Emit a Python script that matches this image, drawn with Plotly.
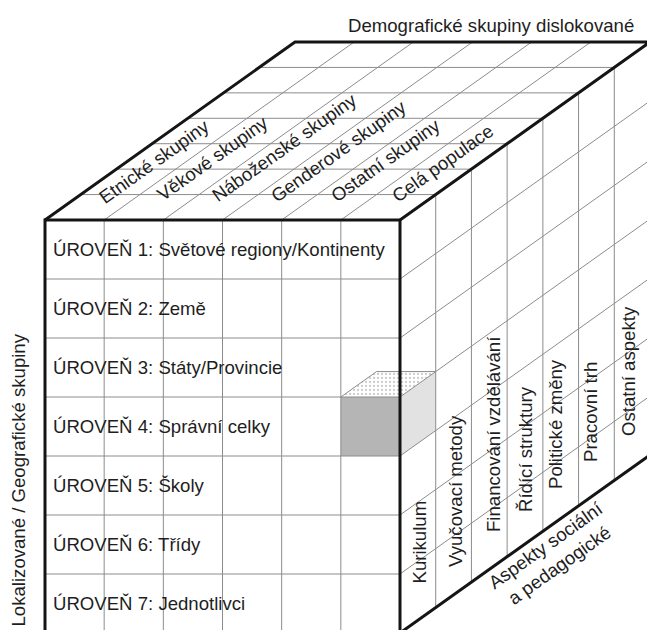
import math
import plotly.graph_objects as go

# ---------------- data ----------------
levels = [
    "ÚROVEŇ 1: Světové regiony/Kontinenty",
    "ÚROVEŇ 2: Země",
    "ÚROVEŇ 3: Státy/Provincie",
    "ÚROVEŇ 4: Správní celky",
    "ÚROVEŇ 5: Školy",
    "ÚROVEŇ 6: Třídy",
    "ÚROVEŇ 7: Jednotlivci",
]
demographic_groups = [
    "Etnické skupiny",
    "Věkové skupiny",
    "Náboženské skupiny",
    "Genderové skupiny",
    "Ostatní skupiny",
    "Celá populace",
]
aspects = [
    "Kurikulum",
    "Vyučovací metody",
    "Financování vzdělávání",
    "Řídící struktury",
    "Politické změny",
    "Pracovní trh",
    "Ostatní aspekty",
]
title_top = "Demografické skupiny dislokované"
title_left = "Lokalizované / Geografické skupiny"
title_right = "Aspekty sociální<br>a pedagogické"
highlight_level = "ÚROVEŇ 4: Správní celky"
highlight_group = "Celá populace"
highlight_aspect = "Kurikulum"

# ---------------- geometry (pixel space) ----------------
W, H = 647, 630
X0, Y0 = 45.0, 220.0          # front face top-left corner
FRONT_W = 355.0
CELL_H = 59.0
DEPTH_X, DEPTH_Y = 250.0, 178.0
n_rows, n_cols, n_dep = len(levels), len(demographic_groups), len(aspects)
CW = FRONT_W / n_cols
DX, DY = DEPTH_X / n_dep, DEPTH_Y / n_dep
X1 = X0 + FRONT_W
Y1 = Y0 + CELL_H * n_rows
ANG = math.degrees(math.atan2(DEPTH_Y, DEPTH_X))

FONT = "Liberation Sans, Arial, Helvetica, sans-serif"
TXT = "#1e1e1e"
GRID = "#8c8c8c"
EDGE = "#151515"

fig = go.Figure()


def poly(xs, ys, fill, pattern=None):
    kw = dict(x=xs + [xs[0]], y=ys + [ys[0]], mode="lines", fill="toself",
              fillcolor=fill, line=dict(width=0, color=fill),
              hoverinfo="skip", showlegend=False)
    if pattern:
        kw["fillpattern"] = pattern
    fig.add_trace(go.Scatter(**kw))


# ---------------- highlighted cell ----------------
r = levels.index(highlight_level)
c = demographic_groups.index(highlight_group)
d = aspects.index(highlight_aspect)
fx0, fx1 = X0 + c * CW, X0 + (c + 1) * CW
fy0, fy1 = Y0 + r * CELL_H, Y0 + (r + 1) * CELL_H
ox, oy = (d + 1) * DX, (d + 1) * DY
poly([fx0, fx1, fx1, fx0], [fy0, fy0, fy1, fy1], "#b5b5b5")
poly([fx1, fx1 + ox, fx1 + ox, fx1], [fy0, fy0 - oy, fy1 - oy, fy1], "#e2e2e2")
poly([fx0, fx1, fx1 + ox, fx0 + ox], [fy0, fy0, fy0 - oy, fy0 - oy], "#ffffff",
     dict(shape=".", fgcolor="#9a9a9a", bgcolor="#ffffff", size=4, solidity=0.25))

# ---------------- thin grid lines ----------------
gx, gy = [], []


def seg(a, b):
    gx.extend([a[0], b[0], None])
    gy.extend([a[1], b[1], None])


# front face
for j in range(1, n_rows):
    y = Y0 + j * CELL_H
    seg((X0, y), (X1, y))
for i in range(1, n_cols):
    x = X0 + i * CW
    seg((x, Y0), (x, Y1))
# top face
for k in range(1, n_dep):
    seg((X0 + k * DX, Y0 - k * DY), (X1 + k * DX, Y0 - k * DY))
for i in range(1, n_cols):
    x = X0 + i * CW
    seg((x, Y0), (x + DEPTH_X, Y0 - DEPTH_Y))
# right face
for k in range(1, n_dep):
    seg((X1 + k * DX, Y0 - k * DY), (X1 + k * DX, Y1 - k * DY))
for j in range(1, n_rows):
    y = Y0 + j * CELL_H
    seg((X1, y), (X1 + DEPTH_X, y - DEPTH_Y))
# highlighted cube edges
seg((fx0, fy0), (fx0 + ox, fy0 - oy))
seg((fx0 + ox, fy0 - oy), (fx1 + ox, fy0 - oy))

fig.add_trace(go.Scatter(x=gx, y=gy, mode="lines", line=dict(color=GRID, width=1),
                         hoverinfo="skip", showlegend=False))

# ---------------- thick outline ----------------
# (the back-right vertical edge lies outside the picture's frame and is not drawn)
ex, ey = [], []


def eseg(pts):
    for p in pts:
        ex.append(p[0]); ey.append(p[1])
    ex.append(None); ey.append(None)


eseg([(X0, Y1), (X0, Y0), (X1, Y0), (X1, Y1)])
eseg([(X0, Y0), (X0 + DEPTH_X, Y0 - DEPTH_Y), (X1 + DEPTH_X, Y0 - DEPTH_Y), (X1, Y0)])
eseg([(X1 + DEPTH_X, Y1 - DEPTH_Y), (X1, Y1)])
fig.add_trace(go.Scatter(x=ex, y=ey, mode="lines", line=dict(color=EDGE, width=3),
                         hoverinfo="skip", showlegend=False))

# ---------------- text ----------------
FS = 18.6


def ann(text, x, y, xa="center", ya="middle", angle=0, size=FS, align="center"):
    fig.add_annotation(x=x, y=y, xref="x", yref="y", text=text, showarrow=False,
                       xanchor=xa, yanchor=ya, textangle=angle, align=align,
                       font=dict(family=FONT, size=size, color=TXT))


# level labels on the front face
for j, lab in enumerate(levels):
    ann(lab, X0 + 6, Y0 + (j + 0.5) * CELL_H, xa="left")

# demographic group labels on the top face
top_centers = [(154, 161), (212, 158), (284, 147), (338, 151), (385, 160), (442, 163)]
for lab, (cx, cy) in zip(demographic_groups, top_centers):
    ann(lab, cx, cy, angle=-ANG)

# aspect labels on the right face (vertical)
right_pos = [(419, 586), (455, 569), (493, 534), (525, 514), (555, 491), (590, 464), (628, 438)]
for lab, (cx, by) in zip(aspects, right_pos):
    ann(lab, cx, by, ya="bottom", angle=-90)

# axis titles
ann(title_top, 636, 25, xa="right")
ann(title_left, 18, 629, ya="bottom", angle=-90)
ann(title_right, 552, 555, angle=-ANG)

fig.update_layout(
    width=W, height=H,
    margin=dict(l=0, r=0, t=0, b=0),
    paper_bgcolor="white", plot_bgcolor="white",
    xaxis=dict(range=[0, W], visible=False, fixedrange=True),
    yaxis=dict(range=[H, 0], visible=False, fixedrange=True),
    showlegend=False,
)

fig.write_html(
    "out.html",
    config={"displayModeBar": False},
    post_script="document.body.style.margin='0';"
                "document.documentElement.style.overflow='hidden';",
)
